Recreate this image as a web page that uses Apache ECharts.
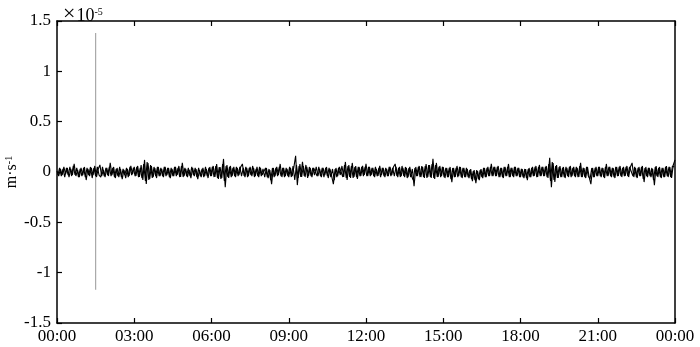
<!DOCTYPE html>
<html><head><meta charset="utf-8">
<script src="https://cdn.jsdelivr.net/npm/echarts@6/dist/echarts.min.js"></script>
<style>html,body{margin:0;padding:0;background:#fff}#c{width:700px;height:347px}</style>
</head><body><div id="c"></div>
<script>
// values in units of 1e-5 m/s; trace A sampled every 4 min from 00:00, trace B every 4 min from 00:02; rows = hours
var traceStepMinutes = 4;
var traceBOffsetMinutes = 2;
var traceValues = [
 0.01,-0.04,0.03,-0.03,0.05,-0.02,0.04,-0.05,0.03,-0.03,0.08,-0.04,0.02,-0.05,0.04,
 -0.03,0.05,-0.08,0.03,-0.04,0.04,-0.03,0.06,-0.05,0.03,0.07,-0.04,0.02,-0.05,0.04,
 -0.04,0.09,-0.03,0.05,-0.06,0.04,-0.05,0.03,-0.07,0.02,-0.06,0.03,-0.04,0.06,-0.02,
 0.05,-0.04,0.06,-0.05,0.07,-0.08,0.12,-0.12,0.09,-0.07,0.06,-0.05,0.04,-0.06,0.05,
 -0.04,0.03,-0.05,0.05,-0.03,0.04,-0.06,0.03,-0.04,0.05,-0.03,0.06,-0.05,0.09,-0.04,
 0.03,-0.05,0.02,-0.06,0.04,-0.04,0.03,-0.07,0.02,-0.05,0.04,-0.04,0.03,-0.06,0.05,
 -0.04,0.06,-0.05,0.08,-0.07,0.05,-0.06,0.13,-0.15,0.07,-0.06,0.06,-0.04,0.05,-0.05,
 0.04,-0.03,0.05,0.08,-0.04,0.05,-0.05,0.04,-0.03,0.06,-0.05,0.03,-0.04,0.05,-0.04,
 0.03,-0.05,0.04,-0.06,0.02,-0.12,0.04,-0.04,0.05,-0.03,0.08,-0.05,0.04,-0.04,0.03,
 -0.05,0.04,-0.04,0.05,0.16,-0.13,0.06,-0.05,0.10,-0.04,0.07,-0.06,0.05,-0.04,0.04,
 -0.03,0.05,-0.04,0.03,-0.05,0.04,-0.03,0.05,-0.06,0.03,-0.04,-0.12,0.03,-0.05,0.04,
 -0.03,0.06,-0.05,0.10,-0.08,0.07,-0.06,0.09,-0.05,0.06,-0.07,0.05,-0.04,0.06,-0.03,
 0.08,-0.04,0.05,-0.03,0.04,-0.05,0.03,-0.04,0.06,-0.03,0.04,-0.05,0.03,-0.04,0.05,
 -0.03,0.05,0.08,-0.04,0.04,-0.05,0.06,-0.04,0.05,-0.06,0.04,-0.05,0.03,-0.14,0.05,
 -0.04,0.06,-0.05,0.05,-0.06,0.08,-0.05,0.07,-0.06,0.13,-0.07,0.09,-0.05,0.06,-0.04,
 0.05,-0.06,0.04,-0.05,0.05,-0.10,0.04,-0.05,0.06,-0.04,0.05,-0.06,0.04,-0.05,0.03,
 -0.06,0.03,-0.09,0.02,-0.11,0.01,-0.08,0.03,-0.06,0.04,-0.05,0.05,-0.04,0.08,-0.04,
 0.05,-0.04,0.06,-0.05,0.04,-0.06,0.05,-0.04,0.08,-0.05,0.04,-0.05,0.05,-0.04,0.04,
 -0.05,0.03,-0.06,0.03,-0.08,0.04,-0.05,0.05,-0.04,0.06,-0.05,0.07,-0.04,0.05,-0.04,
 0.06,-0.06,0.14,-0.15,0.09,-0.10,0.07,-0.06,0.06,-0.05,0.05,-0.06,0.04,-0.05,0.06,
 -0.04,0.05,-0.05,0.04,-0.05,0.09,-0.05,0.04,-0.06,0.05,-0.05,-0.12,0.04,-0.05,0.05,
 -0.04,0.05,-0.05,0.04,-0.06,0.08,-0.04,0.05,-0.05,0.04,-0.06,0.05,-0.04,0.06,-0.05,
 0.05,-0.04,0.06,-0.05,0.05,0.09,-0.05,0.04,-0.06,0.05,-0.04,0.06,-0.10,0.05,-0.05,
 0.04,-0.05,0.03,-0.13,0.06,-0.05,0.05,-0.06,0.04,-0.05,0.06,-0.05,0.05,-0.06,0.07,0.12
];
var traceValuesB = [
 -0.03,0.04,-0.04,0.03,-0.05,0.04,-0.03,0.05,-0.04,0.06,-0.03,0.04,-0.05,0.03,-0.04,
 0.04,-0.05,0.04,-0.03,0.05,-0.06,0.04,-0.04,0.05,-0.03,-0.05,0.05,-0.04,0.04,-0.03,
 0.05,-0.04,0.04,-0.05,0.03,-0.04,0.05,-0.05,0.03,-0.03,0.04,-0.05,0.05,-0.03,0.04,
 -0.04,0.05,-0.05,0.04,-0.06,0.08,-0.09,0.10,-0.08,0.07,-0.06,0.05,-0.04,0.05,-0.04,
 0.04,-0.04,0.05,-0.04,0.04,-0.05,0.04,-0.04,0.05,-0.04,0.04,-0.05,0.06,-0.05,0.04,
 -0.04,0.04,-0.04,0.05,-0.03,0.04,-0.05,0.04,-0.04,0.03,-0.05,0.05,-0.04,0.04,-0.04,
 0.05,-0.05,0.06,-0.06,0.05,-0.07,0.08,-0.09,0.06,-0.05,0.05,-0.05,0.04,-0.04,0.05,
 -0.04,0.05,-0.04,0.04,-0.05,0.04,-0.04,0.05,-0.04,0.04,-0.04,0.05,-0.05,0.04,-0.03,
 -0.04,0.04,-0.05,0.03,-0.08,0.04,-0.05,0.04,-0.04,0.05,-0.04,0.04,-0.05,0.04,-0.04,
 0.05,-0.05,0.06,-0.08,0.07,-0.06,0.08,-0.05,0.06,-0.05,0.05,-0.04,0.04,-0.05,0.04,
 0.04,-0.04,0.05,-0.04,0.04,-0.05,0.04,-0.04,0.04,-0.05,0.03,-0.08,0.04,-0.04,0.05,
 0.05,-0.05,0.07,-0.06,0.06,-0.05,0.06,-0.06,0.05,-0.05,0.05,-0.04,0.05,-0.04,0.05,
 -0.04,0.05,-0.04,0.04,-0.04,0.05,-0.04,0.04,-0.05,0.04,-0.04,0.04,-0.04,0.05,-0.04,
 0.04,-0.04,0.05,-0.05,0.05,-0.04,0.04,-0.05,0.04,-0.05,0.05,-0.04,-0.08,0.04,-0.04,
 0.05,-0.05,0.06,-0.05,0.06,-0.06,0.07,-0.05,0.08,-0.06,0.07,-0.05,0.05,-0.05,0.05,
 -0.05,0.04,-0.05,0.04,-0.07,0.04,-0.05,0.04,-0.05,0.05,-0.05,0.04,-0.05,0.04,-0.05,
 0.02,-0.07,0.01,-0.08,0.02,-0.07,0.02,-0.05,0.04,-0.05,0.04,-0.04,0.05,-0.04,0.05,
 -0.04,0.05,-0.05,0.04,-0.05,0.05,-0.04,0.05,-0.05,0.04,-0.04,0.05,-0.04,0.04,-0.05,
 0.03,-0.05,0.03,-0.06,0.03,-0.05,0.04,-0.04,0.05,-0.05,0.05,-0.04,0.05,-0.04,0.05,
 -0.05,0.08,-0.09,0.10,-0.08,0.06,-0.06,0.05,-0.05,0.04,-0.05,0.05,-0.04,0.05,-0.05,
 0.04,-0.04,0.05,-0.05,0.06,-0.05,0.04,-0.05,0.05,-0.04,-0.07,0.04,-0.05,0.04,-0.04,
 0.05,-0.04,0.04,-0.05,0.05,-0.04,0.05,-0.04,0.04,-0.05,0.05,-0.04,0.05,-0.04,0.04,
 -0.04,0.05,-0.04,0.05,0.06,-0.04,0.05,-0.05,0.04,-0.04,0.05,-0.07,0.04,-0.04,0.04,
 -0.04,0.04,-0.08,0.05,-0.04,0.04,-0.05,0.04,-0.05,0.05,-0.04,0.05,-0.05,0.06,0.05
];
var spikeHour = 1.5;
var spikeMin = -1.17;
var spikeMax = 1.38;
var xTickHours = [0,3,6,9,12,15,18,21,24];
var yTicks = [-1.5,-1,-0.5,0,0.5,1,1.5];

var traceData = traceValues.map(function(v,i){ return [i*traceStepMinutes/60, v]; });
var traceDataB = traceValuesB.map(function(v,i){ return [(i*traceStepMinutes+traceBOffsetMinutes)/60, v]; });
var spikeData = [[spikeHour, spikeMin],[spikeHour, spikeMax]];
function hh(h){ var k = Math.round(h)%24; return (k<10?'0':'')+k+':00'; }

var font = 'Liberation Serif, Times New Roman, serif';
var chart = echarts.init(document.getElementById('c'), null, {renderer:'canvas'});
chart.setOption({
  animation:false,
  backgroundColor:'#fff',
  title:{
    text:'{x|×}{a|10}{b|-5}', left:58, top:2,
    textStyle:{fontWeight:'normal', rich:{
      x:{fontFamily:font, fontSize:22, fontWeight:'normal', color:'#000', verticalAlign:'bottom', lineHeight:18, padding:[0,1,0,0]},
      a:{fontFamily:font, fontSize:18, fontWeight:'normal', color:'#000', verticalAlign:'bottom', lineHeight:18},
      b:{fontFamily:font, fontSize:10, fontWeight:'normal', color:'#000', verticalAlign:'top', lineHeight:18, padding:[0,0,8,0]}
    }}
  },
  grid:{left:57, right:25, top:21, bottom:24, show:false, containLabel:false, outerBoundsMode:'none'},
  xAxis:[{
    type:'value', min:0, max:24, interval:3, position:'bottom',
    axisLine:{show:true, onZero:false, lineStyle:{color:'#000', width:1.5}},
    axisTick:{show:true, inside:true, length:5, lineStyle:{color:'#000', width:1.2}},
    axisLabel:{fontFamily:font, fontSize:17, color:'#000', margin:5, formatter:function(v){ return xTickHours.indexOf(v)>=0?hh(v):''; }},
    splitLine:{show:false}
  },{
    type:'value', min:0, max:24, interval:3, position:'top',
    axisLine:{show:true, onZero:false, lineStyle:{color:'#000', width:1.5}},
    axisTick:{show:true, inside:true, length:5, lineStyle:{color:'#000', width:1.2}},
    axisLabel:{show:false}, splitLine:{show:false}
  }],
  yAxis:[{
    type:'value', min:-1.5, max:1.5, interval:0.5, position:'left',
    axisLine:{show:true, onZero:false, lineStyle:{color:'#000', width:1.5}},
    axisTick:{show:true, inside:true, length:5, lineStyle:{color:'#000', width:1.2}},
    axisLabel:{fontFamily:font, fontSize:17, color:'#000', margin:6, formatter:function(v){ return yTicks.indexOf(v)>=0?String(v):''; }},
    splitLine:{show:false},
    name:'{a|m·s}{b|-1}', nameLocation:'middle', nameGap:37, nameRotate:90, nameMoveOverlap:false,
    nameTextStyle:{rich:{
      a:{fontFamily:font, fontSize:16, color:'#000', verticalAlign:'bottom', lineHeight:16},
      b:{fontFamily:font, fontSize:10, color:'#000', verticalAlign:'top', lineHeight:16, padding:[0,0,7,0]}
    }}
  },{
    type:'value', min:-1.5, max:1.5, interval:0.5, position:'right',
    axisLine:{show:true, onZero:false, lineStyle:{color:'#000', width:1.5}},
    axisTick:{show:false}, axisLabel:{show:false}, splitLine:{show:false}
  }],
  series:[{
    type:'line', data:spikeData, xAxisIndex:0, yAxisIndex:0, symbol:'none',
    lineStyle:{color:'#a8a8a8', width:1.2}, z:2
  },{
    type:'line', data:traceData, xAxisIndex:0, yAxisIndex:0, symbol:'none',
    lineStyle:{color:'#000', width:1.1}, z:3
  },{
    type:'line', data:traceDataB, xAxisIndex:0, yAxisIndex:0, symbol:'none',
    lineStyle:{color:'#000', width:1.1}, z:3
  }]
});
</script></body></html>
